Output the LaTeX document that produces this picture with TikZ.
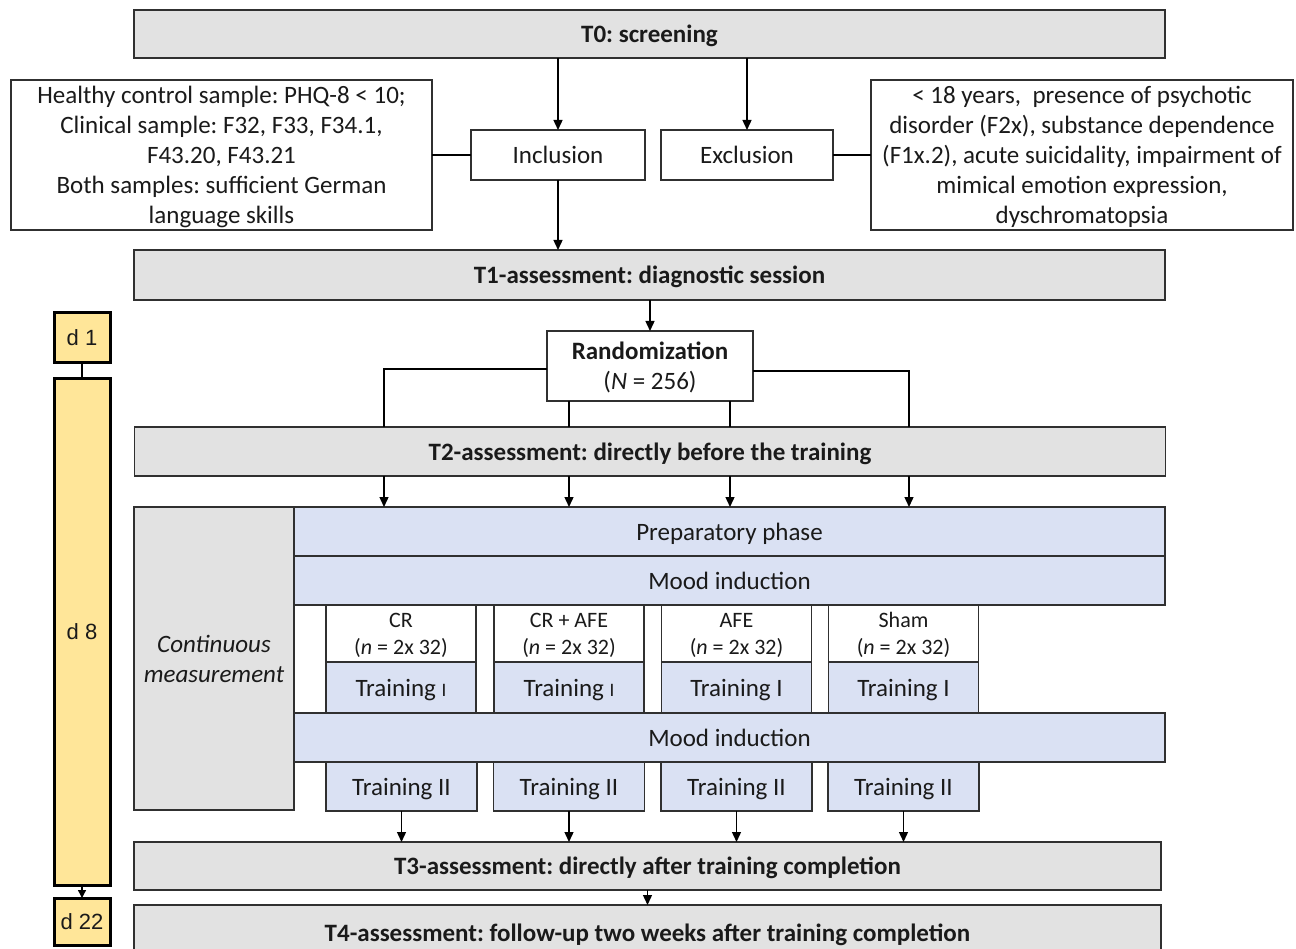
\documentclass[tikz,border=0pt]{standalone}
\usepackage{fontspec}
\setmainfont{Carlito}
\newfontfamily\dayfont{Liberation Sans}
\usetikzlibrary{arrows.meta}
\definecolor{grayfill}{HTML}{E2E2E2}
\definecolor{bluefill}{HTML}{DAE1F3}
\definecolor{dayfill}{HTML}{FFE699}
\definecolor{txt}{HTML}{1A1A1A}
\definecolor{edge}{HTML}{303030}
\frenchspacing
\begin{document}
\begin{tikzpicture}[x=1pt,y=-1pt,
  every node/.style={inner sep=0pt, outer sep=0pt, text=txt, align=center, text depth=0pt},
  base/.style={draw=edge, line width=1.6pt, font=\fontsize{25}{30}\selectfont},
  graybox/.style={base, fill=grayfill, font=\fontsize{25}{30}\selectfont\bfseries},
  whitebox/.style={base, fill=white},
  bluebox/.style={base, fill=bluefill},
  grpbox/.style={base, fill=white, font=\fontsize{22}{27}\selectfont},
  daybox/.style={draw=black, line width=3pt, fill=dayfill, font=\fontsize{22}{26}\selectfont\dayfont, minimum width=56pt},
  conn/.style={draw=black, line width=1.4pt},
  arr/.style={conn, -{Triangle[width=9pt,length=10pt]}}
]
\useasboundingbox (0,0) rectangle (1296,949);

% top
\node[graybox, minimum width=1031pt, minimum height=48pt] (T0) at (649.5,34) {T0: screening};
\node[whitebox, minimum width=421pt, minimum height=150pt] (L) at (221.5,155)
  {Healthy control sample: PHQ-8 < 10;\\Clinical sample: F32, F33, F34.1,\\F43.20, F43.21\\Both samples: sufficient German\\language skills};
\node[whitebox, minimum width=174pt, minimum height=50pt] (Inc) at (558,155) {Inclusion};
\node[whitebox, minimum width=172pt, minimum height=50pt] (Exc) at (747,155) {Exclusion};
\node[whitebox, minimum width=422pt, minimum height=150pt] (R) at (1082,155)
  {< 18 years,\ \ presence of psychotic\\disorder (F2x), substance dependence\\(F1x.2), acute suicidality, impairment of\\mimical emotion expression,\\dyschromatopsia};
\node[graybox, minimum width=1031pt, minimum height=50pt] (T1) at (649.5,275) {T1-assessment: diagnostic session};

\draw[arr] (Inc.north |- T0.south) -- (Inc.north);
\draw[arr] (Exc.north |- T0.south) -- (Exc.north);
\draw[conn] (L.east) -- (Inc.west);
\draw[conn] (Exc.east) -- (R.west);
\draw[arr] (Inc.south) -- (Inc.south |- T1.north);

% randomization
\node[whitebox, minimum width=206pt, minimum height=70pt] (Rand) at (650,366)
  {\textbf{Randomization}\\(\textit{N} = 256)};
\draw[arr] (Rand.north |- T1.south) -- (Rand.north);
\node[graybox, minimum width=1031pt, minimum height=49pt] (T2) at (650,451.5) {T2-assessment: directly before the training};

\coordinate (a1) at (384,0);
\coordinate (a2) at (569,0);
\coordinate (a3) at (730,0);
\coordinate (a4) at (909,0);
\draw[conn] ([yshift=-3pt]Rand.west) -| (a1 |- T2.north);
\draw[conn] ([yshift=-5pt]Rand.east) -| (a4 |- T2.north);
\draw[conn] (a2 |- Rand.south) -- (a2 |- T2.north);
\draw[conn] (a3 |- Rand.south) -- (a3 |- T2.north);

% training block
\node[graybox, font=\fontsize{25}{30}\selectfont\itshape, minimum width=160pt, minimum height=303pt] (CM) at (214,658.5) {Continuous\\measurement};
\node[bluebox, minimum width=871pt, minimum height=49pt] (Prep) at (729.5,531.5) {Preparatory phase};
\node[bluebox, minimum width=871pt, minimum height=49pt] (MI1) at (729.5,580.5) {Mood induction};
\node[bluebox, minimum width=871pt, minimum height=49pt] (MI2) at (729.5,737.5) {Mood induction};

\foreach \a in {a1,a2,a3,a4}{
  \draw[arr] (\a |- T2.south) -- (\a |- Prep.north);
}

\node[grpbox, minimum width=150pt, minimum height=57pt] (G1) at (401,633.5) {CR\\(\textit{n} = 2x 32)};
\node[grpbox, minimum width=150pt, minimum height=57pt] (G2) at (569,633.5) {CR + AFE\\(\textit{n} = 2x 32)};
\node[grpbox, minimum width=150pt, minimum height=57pt] (G3) at (736.5,633.5) {AFE\\(\textit{n} = 2x 32)};
\node[grpbox, minimum width=150pt, minimum height=57pt] (G4) at (903.5,633.5) {Sham\\(\textit{n} = 2x 32)};

\node[bluebox, minimum width=150pt, minimum height=51pt] (TI1) at (401,687.5) {Training {\fontsize{19}{20}\selectfont I}};
\node[bluebox, minimum width=150pt, minimum height=51pt] (TI2) at (569,687.5) {Training {\fontsize{19}{20}\selectfont I}};
\node[bluebox, minimum width=150pt, minimum height=51pt] (TI3) at (736.5,687.5) {Training I};
\node[bluebox, minimum width=150pt, minimum height=51pt] (TI4) at (903.5,687.5) {Training I};

\node[bluebox, minimum width=151pt, minimum height=49pt] (TII1) at (401.5,786.5) {Training II};
\node[bluebox, minimum width=151pt, minimum height=49pt] (TII2) at (569,786.5) {Training II};
\node[bluebox, minimum width=151pt, minimum height=49pt] (TII3) at (736.5,786.5) {Training II};
\node[bluebox, minimum width=151pt, minimum height=49pt] (TII4) at (903.5,786.5) {Training II};

\node[graybox, minimum width=1027pt, minimum height=48pt] (T3) at (647.5,866) {T3-assessment: directly after training completion};
\node[graybox, minimum width=1027pt, minimum height=56pt] (T4) at (647.5,933) {T4-assessment: follow-up two weeks after training completion};

\foreach \i in {1,2,3,4}{
  \draw[arr] (TII\i.south) -- (TII\i.south |- T3.north);
}
\draw[arr] (T3.south) -- (T3.south |- T4.north);

% days
\node[daybox, minimum height=50pt] (d1) at (82,338) {d 1};
\node[daybox, minimum height=506pt] (d8) at (82,632) {d 8};
\node[daybox, minimum height=47pt] (d22) at (82,921.5) {d 22};
\draw[conn] (d1.south) -- (d8.north);
\draw[conn, -{Triangle[width=8pt,length=8pt]}] (d8.south) -- (d22.north);
\end{tikzpicture}
\end{document}
